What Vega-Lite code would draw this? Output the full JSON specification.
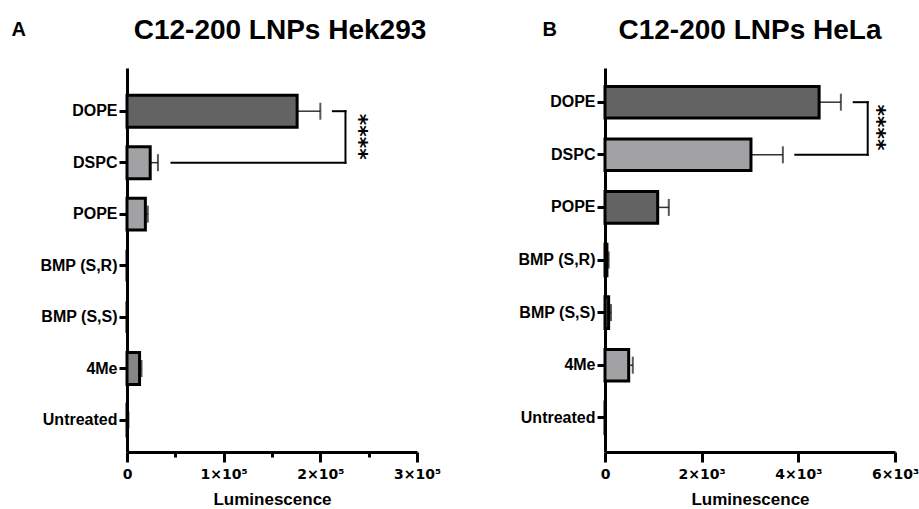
{
  "$schema": "https://vega.github.io/schema/vega-lite/v6.json",
  "background": "white",
  "padding": {"left": 11, "top": 17, "right": 0, "bottom": 0},
  "datasets": {
    "hek": [
      {"lipid": "DOPE", "mean": 176000, "upper": 200000},
      {"lipid": "DSPC", "mean": 24000, "upper": 32000},
      {"lipid": "POPE", "mean": 19000, "upper": 21500},
      {"lipid": "BMP (S,R)", "mean": 0, "upper": 0},
      {"lipid": "BMP (S,S)", "mean": 0, "upper": 0},
      {"lipid": "4Me", "mean": 13000, "upper": 15000},
      {"lipid": "Untreated", "mean": 100, "upper": 1500}
    ],
    "hela": [
      {"lipid": "DOPE", "mean": 4430, "upper": 4880},
      {"lipid": "DSPC", "mean": 3020, "upper": 3680},
      {"lipid": "POPE", "mean": 1090, "upper": 1320},
      {"lipid": "BMP (S,R)", "mean": 40, "upper": 75},
      {"lipid": "BMP (S,S)", "mean": 75, "upper": 124},
      {"lipid": "4Me", "mean": 490, "upper": 575},
      {"lipid": "Untreated", "mean": 10, "upper": 20}
    ],
    "hekBracket": [
      {"lipid": "DOPE", "from": 213000, "to": 226000},
      {"lipid": "DSPC", "from": 46000, "to": 226000}
    ],
    "helaBracket": [
      {"lipid": "DOPE", "from": 5146, "to": 5435},
      {"lipid": "DSPC", "from": 3937, "to": 5435}
    ]
  },
  "hconcat": [
    {
      "width": 290,
      "height": 384,
      "title": {"text": "C12-200 LNPs Hek293", "fontSize": 28, "font": "Liberation Sans", "fontWeight": "bold", "color": "black", "offset": -26, "dx": 8},
      "layer": [
        {
          "data": {"name": "hek"},
          "mark": {"type": "rule", "color": "#333", "strokeWidth": 1.5},
          "encoding": {
            "y": {"field": "lipid", "type": "nominal", "sort": null},
            "x": {"field": "mean", "type": "quantitative"},
            "x2": {"field": "upper"}
          }
        },
        {
          "data": {"name": "hek"},
          "mark": {"type": "tick", "color": "#111", "size": 17, "thickness": 2},
          "encoding": {
            "y": {"field": "lipid", "type": "nominal", "sort": null},
            "x": {"field": "upper", "type": "quantitative"}
          }
        },
        {
          "data": {"name": "hek"},
          "mark": {"type": "bar", "stroke": "black", "strokeWidth": 3},
          "encoding": {
            "y": {
              "field": "lipid", "type": "nominal", "sort": null,
              "scale": {"paddingInner": 0.38, "paddingOuter": 0.42, "align": 0.63},
              "axis": {
                "title": "A", "titleAngle": 0, "titleFontSize": 20, "titleAlign": "left", "titleBaseline": "alphabetic",
                "titleX": -116, "titleY": -33,
                "labelFontSize": 16, "tickSize": 8, "labelPadding": 2
              }
            },
            "x": {
              "field": "mean", "type": "quantitative",
              "scale": {"domain": [0, 300000], "nice": false},
              "axis": {
                "title": "Luminescence", "titleFontSize": 17, "titlePadding": 10,
                "values": [0, 50000, 100000, 150000, 200000, 250000, 300000],
                "tickSize": {"condition": {"test": "datum.value % 100000 !== 0", "value": 5}, "value": 10},
                "labelExpr": "datum.value % 100000 !== 0 ? '' : (datum.value === 0 ? '0' : (datum.value / 100000) + '×10⁵')",
                "labelFont": "DejaVu Sans", "labelFontSize": 14, "labelPadding": 5, "labelFlush": false
              }
            },
            "fill": {
              "field": "lipid", "type": "nominal", "legend": null,
              "scale": {
                "domain": ["DOPE", "DSPC", "POPE", "BMP (S,R)", "BMP (S,S)", "4Me", "Untreated"],
                "range": ["#636363", "#a2a2a5", "#a2a2a5", "#636363", "#636363", "#858585", "#636363"]
              }
            }
          }
        },
        {
          "data": {"name": "hekBracket"},
          "mark": {"type": "rule", "color": "black", "strokeWidth": 2, "strokeCap": "square"},
          "encoding": {
            "y": {"field": "lipid", "type": "nominal", "sort": null},
            "x": {"field": "from", "type": "quantitative"},
            "x2": {"field": "to"}
          }
        },
        {
          "data": {"values": [{"x": 226000}]},
          "mark": {"type": "rule", "color": "black", "strokeWidth": 2, "strokeCap": "square"},
          "encoding": {
            "x": {"field": "x", "type": "quantitative"},
            "y": {"datum": "DOPE"},
            "y2": {"datum": "DSPC"}
          }
        },
        {
          "data": {"values": [{"x": 239800, "label": "****"}]},
          "mark": {"type": "text", "angle": 90, "align": "center", "baseline": "middle", "font": "DejaVu Sans", "fontWeight": "bold", "fontSize": 22, "color": "black"},
          "encoding": {
            "x": {"field": "x", "type": "quantitative"},
            "y": {"datum": "DOPE", "bandPosition": 1.3},
            "text": {"field": "label"}
          }
        }
      ]
    },
    {
      "width": 290,
      "height": 384,
      "title": {"text": "C12-200 LNPs HeLa", "fontSize": 28, "font": "Liberation Sans", "fontWeight": "bold", "color": "black", "offset": -26},
      "layer": [
        {
          "data": {"name": "hela"},
          "mark": {"type": "rule", "color": "#333", "strokeWidth": 1.5},
          "encoding": {
            "y": {"field": "lipid", "type": "nominal", "sort": null},
            "x": {"field": "mean", "type": "quantitative"},
            "x2": {"field": "upper"}
          }
        },
        {
          "data": {"name": "hela"},
          "mark": {"type": "tick", "color": "#111", "size": 17, "thickness": 2},
          "encoding": {
            "y": {"field": "lipid", "type": "nominal", "sort": null},
            "x": {"field": "upper", "type": "quantitative"}
          }
        },
        {
          "data": {"name": "hela"},
          "mark": {"type": "bar", "stroke": "black", "strokeWidth": 3},
          "encoding": {
            "y": {
              "field": "lipid", "type": "nominal", "sort": null,
              "scale": {"paddingInner": 0.4, "paddingOuter": 0.35},
              "axis": {
                "title": "B", "titleAngle": 0, "titleFontSize": 20, "titleAlign": "left", "titleBaseline": "alphabetic",
                "titleX": -63, "titleY": -33,
                "labelFontSize": 16, "tickSize": 8, "labelPadding": 2
              }
            },
            "x": {
              "field": "mean", "type": "quantitative",
              "scale": {"domain": [0, 6000], "nice": false},
              "axis": {
                "title": "Luminescence", "titleFontSize": 17, "titlePadding": 10,
                "values": [0, 2000, 4000, 6000],
                "tickSize": 10,
                "labelExpr": "datum.value === 0 ? '0' : (datum.value / 1000) + '×10³'",
                "labelFont": "DejaVu Sans", "labelFontSize": 14, "labelPadding": 5, "labelFlush": false
              }
            },
            "fill": {
              "field": "lipid", "type": "nominal", "legend": null,
              "scale": {
                "domain": ["DOPE", "DSPC", "POPE", "BMP (S,R)", "BMP (S,S)", "4Me", "Untreated"],
                "range": ["#636363", "#a2a2a5", "#636363", "#636363", "#636363", "#a2a2a5", "#636363"]
              }
            }
          }
        },
        {
          "data": {"name": "helaBracket"},
          "mark": {"type": "rule", "color": "black", "strokeWidth": 2, "strokeCap": "square"},
          "encoding": {
            "y": {"field": "lipid", "type": "nominal", "sort": null},
            "x": {"field": "from", "type": "quantitative"},
            "x2": {"field": "to"}
          }
        },
        {
          "data": {"values": [{"x": 5435}]},
          "mark": {"type": "rule", "color": "black", "strokeWidth": 2, "strokeCap": "square"},
          "encoding": {
            "x": {"field": "x", "type": "quantitative"},
            "y": {"datum": "DOPE"},
            "y2": {"datum": "DSPC"}
          }
        },
        {
          "data": {"values": [{"x": 5628, "label": "****"}]},
          "mark": {"type": "text", "angle": 90, "align": "center", "baseline": "middle", "font": "DejaVu Sans", "fontWeight": "bold", "fontSize": 22, "color": "black"},
          "encoding": {
            "x": {"field": "x", "type": "quantitative"},
            "y": {"datum": "DOPE", "bandPosition": 1.3},
            "text": {"field": "label"}
          }
        }
      ],
      "resolve": {"scale": {"fill": "independent"}}
    }
  ],
  "resolve": {"scale": {"fill": "independent", "x": "independent", "y": "independent"}},
  "config": {
    "concat": {"spacing": 76},
    "view": {"stroke": null},
    "axis": {
      "grid": false,
      "domainColor": "black", "domainWidth": 3,
      "tickColor": "black", "tickWidth": 3,
      "labelFont": "Liberation Sans", "labelFontWeight": "bold", "labelColor": "black",
      "titleFont": "Liberation Sans", "titleFontWeight": "bold", "titleColor": "black"
    }
  }
}
